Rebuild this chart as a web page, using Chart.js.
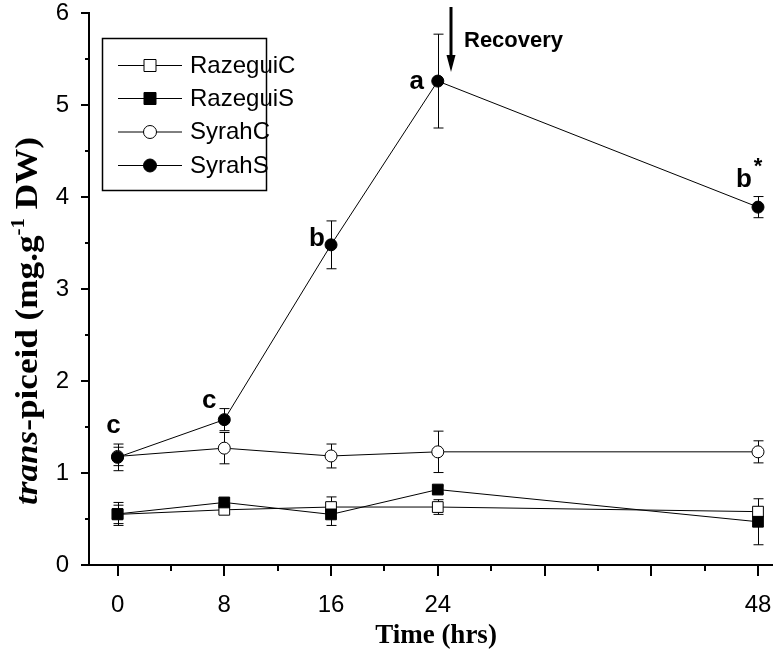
<!DOCTYPE html>
<html><head><meta charset="utf-8">
<style>html,body{margin:0;padding:0;background:#fff}canvas{display:block}</style>
<script src="https://cdn.jsdelivr.net/npm/chart.js@4/dist/chart.umd.min.js"></script>
</head><body>
<canvas id="c" width="774" height="663"></canvas>
<script>
// ---- data ----
const hours = [0, 8, 16, 24, 48];
const seriesNames = ['RazeguiC', 'RazeguiS', 'SyrahC', 'SyrahS'];
const razeguiC = [0.55, 0.60, 0.63, 0.63, 0.58];
const razeguiCErr = [0.10, 0.04, 0.11, 0.08, 0.05];
const razeguiS = [0.555, 0.68, 0.55, 0.82, 0.47];
const razeguiSErr = [0.125, 0.04, 0.12, 0.04, 0.25];
const syrahC = [1.18, 1.27, 1.185, 1.23, 1.23];
const syrahCErr = [0.10, 0.17, 0.13, 0.225, 0.12];
const syrahS = [1.17, 1.58, 3.48, 5.26, 3.89];
const syrahSErr = [0.145, 0.12, 0.26, 0.51, 0.115];
const syrahSLetters = ['c', 'c', 'b', 'a', 'b'];
const syrahSStar = [false, false, false, false, true];
const xTickValues = [0, 4, 8, 12, 16, 20, 24, 28, 32, 36, 40, 44, 48];
const xTickLabels = [0, 8, 16, 24, 48];
const yTickValues = [0, 0.5, 1, 1.5, 2, 2.5, 3, 3.5, 4, 4.5, 5, 5.5, 6];
const yTickLabels = [0, 1, 2, 3, 4, 5, 6];
const recoveryTime = 25;
const recoveryLabel = 'Recovery';
const xTitle = 'Time (hrs)';

const SANS = '"Liberation Sans", Arial, sans-serif';
const SERIF = '"Liberation Serif", "Times New Roman", serif';

const pts = (vals) => hours.map((h, i) => ({x: h, y: vals[i]}));
const errs = [razeguiCErr, razeguiSErr, syrahCErr, syrahSErr];
const styles = [
  {shape: 'rect', fill: '#ffffff'},
  {shape: 'rect', fill: '#000000'},
  {shape: 'circle', fill: '#ffffff'},
  {shape: 'circle', fill: '#000000'}
];

function mkDs(i, vals, order) {
  const st = styles[i];
  const r = st.shape === 'rect' ? 7.6 : 6;
  return {
    label: seriesNames[i],
    data: pts(vals),
    order: order,
    borderColor: '#000',
    borderWidth: 1,
    tension: 0,
    fill: false,
    pointStyle: st.shape,
    pointRadius: r,
    pointHoverRadius: r,
    pointBackgroundColor: st.fill,
    pointBorderColor: '#000',
    pointBorderWidth: 1,
    clip: false
  };
}

const errorBars = {
  id: 'errorBars',
  beforeDatasetsDraw(chart) {
    const {ctx, scales: {x, y}} = chart;
    ctx.save();
    ctx.strokeStyle = '#000';
    ctx.lineWidth = 1;
    chart.data.datasets.forEach((ds, di) => {
      ds.data.forEach((p, i) => {
        const e = errs[di][i];
        const px = Math.round(x.getPixelForValue(p.x)) + 0.5;
        const yt = y.getPixelForValue(p.y + e);
        const yb = y.getPixelForValue(p.y - e);
        ctx.beginPath();
        ctx.moveTo(px, yt); ctx.lineTo(px, yb);
        ctx.moveTo(px - 5, yt); ctx.lineTo(px + 5, yt);
        ctx.moveTo(px - 5, yb); ctx.lineTo(px + 5, yb);
        ctx.stroke();
      });
    });
    ctx.restore();
  }
};

const decorations = {
  id: 'decorations',
  afterDraw(chart) {
    const {ctx, chartArea: ca, scales: {x, y}} = chart;
    ctx.save();
    ctx.strokeStyle = '#000';
    ctx.fillStyle = '#000';
    // tick marks
    ctx.lineWidth = 2;
    y.ticks.forEach(t => {
      const py = Math.round(y.getPixelForValue(t.value));
      const len = Number.isInteger(t.value) ? 8 : 4;
      ctx.beginPath(); ctx.moveTo(ca.left - len, py); ctx.lineTo(ca.left, py); ctx.stroke();
    });
    x.ticks.forEach(t => {
      const px = Math.round(x.getPixelForValue(t.value));
      const len = t.value % 8 === 0 ? 11 : 6;
      ctx.beginPath(); ctx.moveTo(px, ca.bottom); ctx.lineTo(px, ca.bottom + len); ctx.stroke();
    });

    // significance letters on SyrahS
    ctx.font = 'bold 26px ' + SANS;
    ctx.textAlign = 'center';
    ctx.textBaseline = 'alphabetic';
    const offs = [[-4, -24], [-15, -12], [-14, 1], [-21, 8], [-14, -20]];
    hours.forEach((h, i) => {
      const px = x.getPixelForValue(h), py = y.getPixelForValue(syrahS[i]);
      ctx.fillText(syrahSLetters[i], px + offs[i][0], py + offs[i][1]);
      if (syrahSStar[i]) {
        ctx.font = 'bold 22px ' + SANS;
        ctx.fillText('*', px, py - 34);
        ctx.font = 'bold 26px ' + SANS;
      }
    });

    // recovery arrow
    const ax = Math.round(x.getPixelForValue(recoveryTime));
    const tipY = y.getPixelForValue(5.36);
    const topY = 7;
    ctx.lineWidth = 3;
    ctx.beginPath(); ctx.moveTo(ax, topY); ctx.lineTo(ax, tipY - 14); ctx.stroke();
    ctx.beginPath();
    ctx.moveTo(ax - 4.5, tipY - 17); ctx.lineTo(ax + 4.5, tipY - 17); ctx.lineTo(ax, tipY);
    ctx.closePath(); ctx.fill();
    ctx.font = 'bold 22px ' + SANS;
    ctx.textAlign = 'left';
    ctx.fillText(recoveryLabel, ax + 13, 47);

    // legend
    const lx = 102, ly = 38, lw = 164, lh = 152;
    ctx.lineWidth = 1.5;
    ctx.strokeRect(lx + 0.5, ly + 0.5, lw, lh);
    ctx.font = '24px ' + SANS;
    ctx.textBaseline = 'middle';
    const rows = [65, 98, 131.5, 165];
    seriesNames.forEach((n, i) => {
      const ry = rows[i];
      ctx.lineWidth = 1;
      ctx.beginPath(); ctx.moveTo(118, ry + 0.5); ctx.lineTo(182, ry + 0.5); ctx.stroke();
      ctx.fillStyle = styles[i].fill;
      ctx.beginPath();
      if (styles[i].shape === 'rect') ctx.rect(144, ry - 5.5, 12, 12);
      else ctx.arc(150, ry + 0.5, 6.5, 0, Math.PI * 2);
      ctx.fill(); ctx.stroke();
      ctx.fillStyle = '#000';
      ctx.fillText(n, 190, ry + 1);
    });

    // x title
    ctx.font = 'bold 27px ' + SERIF;
    ctx.textAlign = 'center';
    ctx.textBaseline = 'alphabetic';
    ctx.fillText(xTitle, 436, 643);

    // y title with italic and superscript
    const segs = [
      {t: 'trans', f: 'italic bold 32px ' + SERIF, dy: 0},
      {t: '-piceid (mg.g', f: 'bold 32px ' + SERIF, dy: 0},
      {t: '-1', f: 'bold 19px ' + SERIF, dy: -13},
      {t: ' DW)', f: 'bold 32px ' + SERIF, dy: 0}
    ];
    let total = 0;
    segs.forEach(s => { ctx.font = s.f; s.w = ctx.measureText(s.t).width; total += s.w; });
    const sc = 368 / total;
    ctx.translate(37, 321);
    ctx.rotate(-Math.PI / 2);
    ctx.scale(sc, 1);
    ctx.textAlign = 'left';
    let cx = -total / 2;
    segs.forEach(s => { ctx.font = s.f; ctx.fillText(s.t, cx, s.dy); cx += s.w; });
    ctx.restore();
  }
};

new Chart(document.getElementById('c'), {
  type: 'line',
  data: {
    datasets: [
      mkDs(0, razeguiC, 3),
      mkDs(1, razeguiS, 1),
      mkDs(2, syrahC, 2),
      mkDs(3, syrahS, 0)
    ]
  },
  options: {
    responsive: false,
    animation: false,
    devicePixelRatio: 1,
    layout: {autoPadding: false, padding: {left: 0, right: 2, top: 13, bottom: 0}},
    plugins: {legend: {display: false}, tooltip: {enabled: false}, title: {display: false}},
    scales: {
      x: {
        type: 'linear',
        min: -2.14, max: 49.05,
        afterBuildTicks: s => { s.ticks = xTickValues.map(v => ({value: v})); },
        afterFit: s => { s.height = 98; s.paddingLeft = 0; s.paddingRight = 0; },
        grid: {display: false},
        border: {display: true, color: '#000', width: 2},
        ticks: {
          autoSkip: false, maxRotation: 0, padding: 18, color: '#000',
          font: {family: SANS, size: 24},
          callback: v => xTickLabels.includes(v) ? String(v) : ''
        }
      },
      y: {
        type: 'linear',
        min: 0, max: 6,
        afterBuildTicks: s => { s.ticks = yTickValues.map(v => ({value: v})); },
        afterFit: s => { s.width = 89; s.paddingTop = 0; s.paddingBottom = 0; },
        grid: {display: false},
        border: {display: true, color: '#000', width: 2},
        ticks: {
          autoSkip: false, padding: 12, color: '#000',
          font: {family: SANS, size: 24},
          callback: v => yTickLabels.includes(v) ? String(v) : ''
        }
      }
    }
  },
  plugins: [errorBars, decorations]
});
</script>
</body></html>
